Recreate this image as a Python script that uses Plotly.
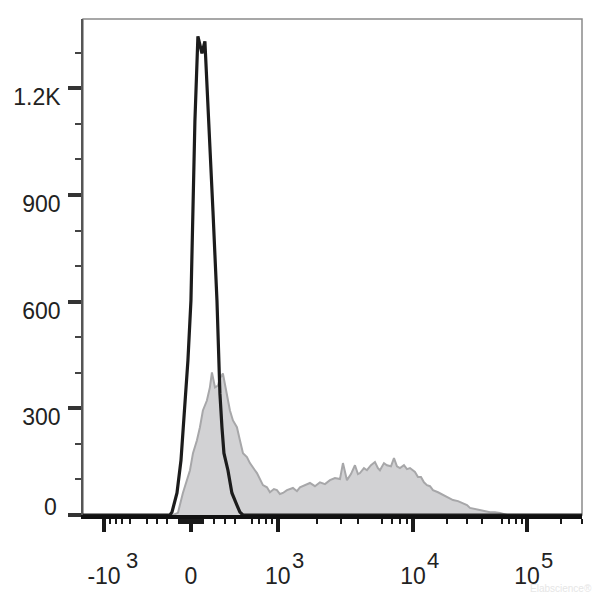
import numpy as np
import plotly.graph_objects as go

# ---------------- display scale (FlowJo-like biexponential) ----------------
LIN_WIDTH = 500.0      # arcsinh width: linear behaviour near zero
SWITCH = 1e4           # above this value the scale is purely logarithmic
LOG_DECADE = 1.894     # display units per decade above SWITCH


def biex(v):
    v = np.asarray(v, dtype=float)
    low = np.arcsinh(v / LIN_WIDTH)
    high = np.arcsinh(SWITCH / LIN_WIDTH) + np.log10(np.maximum(v, SWITCH) / SWITCH) * LOG_DECADE
    return np.where(v <= SWITCH, low, high)


# ---------------- data ----------------
# Unstained / control histogram (black line)
control_x = [-1460, -178, -160, -117, -83, -50, -25, 0, 17, 33, 58, 92, 117, 152, 187, 223,
             241, 250, 269, 288, 327, 367, 420, 453, 488, 303000]
control_count = [0, 0, 8, 62, 154, 322, 435, 603, 855, 1108, 1346, 1298, 1332, 1108, 855, 603,
                 435, 342, 247, 174, 126, 62, 28, 8, 0, 0]

# Stained histogram (grey filled)
stained_x = [-152, -109, -67, -33, -8, 17, 50, 75, 100, 134, 160, 178, 205, 232, 250, 278,
             317, 347, 378, 420, 453, 488, 535, 572, 637, 665, 751, 813, 861, 929, 983,
             1039, 1098, 1181, 1315, 1411, 1488, 1623, 1770, 1929, 2102, 2289, 2491, 2711,
             2950, 3102, 3318, 3549, 3795, 3990, 4126, 4412, 4639, 4959, 5301, 5573, 5762,
             6160, 6475, 6922, 7277, 7649, 8042, 8595, 9036, 9498, 9990, 10390, 11040,
             11730, 12460, 13240, 14070, 14950, 16540, 18300, 20240, 22390, 24770, 27400,
             29710, 31560, 34910, 38620, 42720, 47270, 52290, 57850, 66640]
stained_count = [0, 6, 62, 98, 126, 174, 210, 247, 294, 322, 359, 401, 359, 364, 384, 398,
                 342, 294, 266, 247, 210, 174, 163, 146, 126, 118, 84, 78, 64, 73, 70,
                 59, 62, 70, 76, 67, 78, 84, 90, 81, 92, 87, 98, 104,
                 101, 146, 98, 115, 140, 115, 118, 132, 126, 140, 149, 132, 126,
                 146, 140, 137, 160, 137, 132, 140, 129, 132, 126, 121, 107,
                 107, 92, 84, 81, 70, 64, 56, 50, 42, 39, 34,
                 28, 20, 17, 14, 11, 8, 8, 6, 0]

# axis extent / ticks
X_MIN, X_MAX = -1460, 303000
Y_MAX = 1395
x_major = [-1000, 0, 1000, 10000, 100000]
x_major_text = ["-10", "0", "10", "10", "10"]
x_exponent = {-1000: "3", 1000: "3", 10000: "4", 100000: "5"}
x_medium = [-500, 500, 5000, 50000]
x_minor = ([-m * 100 for m in range(1, 10) if m != 5] + [-m * 10 for m in range(1, 10)] +
           [m * 10 for m in range(1, 10)] + [m * 100 for m in range(1, 10) if m != 5] +
           [m * 1000 for m in range(2, 10) if m != 5] + [m * 10000 for m in range(2, 10) if m != 5] +
           [200000, 300000])
y_major = [0, 300, 600, 900, 1200]
y_major_text = ["", "300", "600", "900", "1.2K"]
y_minor = [v for v in range(100, 1400, 100) if v % 300 != 0]

FONT = "Liberation Sans, Arial, sans-serif"

fig = go.Figure()
fig.add_trace(go.Scatter(
    x=biex(stained_x), y=stained_count, mode="lines",
    line=dict(color="#a7a7a9", width=2), fill="tozeroy", fillcolor="#d2d2d4",
    hoverinfo="skip", showlegend=False))
fig.add_trace(go.Scatter(
    x=biex(control_x), y=control_count, mode="lines",
    line=dict(color="#1c1c1c", width=3.2), hoverinfo="skip", showlegend=False))

xr = [float(biex(X_MIN)), float(biex(X_MAX))]

# the page body has an 8px default margin, so the figure starts at (8, 8)
fig.update_layout(
    width=592, height=587,
    margin=dict(l=75, r=18, t=11, b=80, autoexpand=False),
    paper_bgcolor="white", plot_bgcolor="white",
    font=dict(family=FONT, size=23, color="#222222"),
    xaxis=dict(
        range=xr, tickmode="array", tickvals=list(biex(x_major)), ticktext=x_major_text,
        ticks="outside", ticklen=13, tickwidth=3.5, tickcolor="#1a1a1a",
        showline=True, linewidth=3.5, linecolor="#111111", automargin=False,
        showgrid=False, zeroline=False, ticklabelstandoff=25,
        minor=dict(tickmode="array", tickvals=list(biex(x_minor)), ticks="outside",
                   ticklen=5, tickwidth=2, tickcolor="#1a1a1a", showgrid=False),
    ),
    xaxis2=dict(
        overlaying="x", anchor="y", side="bottom", range=xr, matches="x",
        tickmode="array", tickvals=list(biex(x_medium)), showticklabels=False,
        ticks="outside", ticklen=9, tickwidth=2.5, tickcolor="#1a1a1a",
        showline=True, linewidth=3.5, linecolor="#111111", automargin=False,
        showgrid=False, zeroline=False,
    ),
    yaxis=dict(
        range=[0, Y_MAX], tickmode="array", tickvals=y_major, ticktext=y_major_text,
        ticks="outside", ticklen=13, tickwidth=3.5, tickcolor="#333333",
        showline=True, linewidth=1.5, linecolor="#555555", automargin=False,
        showgrid=False, zeroline=False, ticklabelshift=9, ticklabelstandoff=3,
        minor=dict(tickmode="array", tickvals=y_minor, ticks="outside",
                   ticklen=6, tickwidth=2, tickcolor="#444444", showgrid=False),
    ),
    shapes=[dict(type="rect", xref="paper", yref="paper", x0=0, x1=1, y0=0, y1=1,
                 line=dict(color="#8a8a8a", width=1.5), layer="below")],
)

annotations = []
for v, e in x_exponent.items():
    shift = 28 if v < 0 else 20
    annotations.append(dict(x=float(biex(v)), xref="x", y=0, yref="paper", text=e,
                            showarrow=False, xanchor="center", yanchor="middle",
                            xshift=shift, yshift=-45, font=dict(size=22, family=FONT, color="#222222")))
annotations.append(dict(x=0, xref="paper", y=0, yref="y", text="0", showarrow=False,
                        xanchor="right", yanchor="middle", xshift=-24, yshift=8,
                        font=dict(size=23, family=FONT, color="#222222")))
annotations.append(dict(x=1, xref="paper", y=-0.149, yref="paper", text="Elabscience®",
                        showarrow=False, xanchor="right", yanchor="middle", xshift=12,
                        font=dict(size=10, family=FONT, color="#e6e6e6")))
fig.update_layout(annotations=annotations)

fig.write_html("out.html")
